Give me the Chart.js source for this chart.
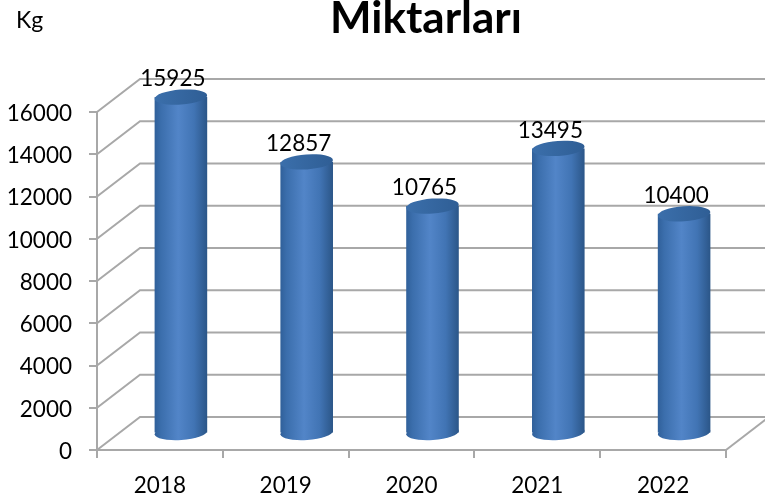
<!DOCTYPE html>
<html>
<head>
<meta charset="utf-8">
<style>html,body{margin:0;padding:0;background:#fff;overflow:hidden}#w{width:765px;height:501px;position:relative}</style>
<script src="https://cdn.jsdelivr.net/npm/chart.js@4"></script>
</head>
<body>
<div id="w"><canvas id="c" width="765" height="501"></canvas></div>
<script>
const years = ['2018','2019','2020','2021','2022'];
const amounts = [15925,12857,10765,13495,10400];
const yMax = 16000, yStep = 2000;
const titleText = 'Miktarları', unitText = 'Kg';
const depthX = 43, depthY = -33;
const barShiftX = 21, barShiftY = -16.5;
const capRy = 7.5, capTilt = -0.07;
const gridColor = '#a8a8a8';
const fontName = 'Lato, Carlito, "Open Sans", sans-serif';

function bodyGradient(ctx, x, w){
  const g = ctx.createLinearGradient(x - w/2, 0, x + w/2, 0);
  g.addColorStop(0, '#30609a');
  g.addColorStop(0.12, '#3b6eac');
  g.addColorStop(0.45, '#5285c8');
  g.addColorStop(0.75, '#4174b4');
  g.addColorStop(1, '#2b5688');
  return g;
}
function ellipse(ctx, x, y, rx, fill){
  ctx.beginPath();
  ctx.ellipse(x, y, rx, capRy, capTilt, 0, Math.PI*2);
  ctx.fillStyle = fill;
  ctx.fill();
}
const scene = {
  id: 'scene',
  beforeDatasetsDraw(chart){
    const {ctx, scales:{x, y}} = chart;
    const left = x.left, right = x.right;
    ctx.save();
    ctx.strokeStyle = gridColor;
    ctx.lineWidth = 2;
    y.ticks.forEach(t => {
      const p = y.getPixelForValue(t.value);
      ctx.beginPath();
      ctx.moveTo(left, p);
      ctx.lineTo(left + depthX, p + depthY);
      ctx.lineTo(765, p + depthY);
      ctx.stroke();
    });
    const p0 = y.getPixelForValue(0);
    ctx.beginPath();
    ctx.moveTo(right, p0);
    ctx.lineTo(right + depthX, p0 + depthY);
    ctx.stroke();
    ctx.restore();

    ctx.save();
    ctx.translate(barShiftX, barShiftY);
    chart.getDatasetMeta(0).data.forEach(b => {
      ellipse(ctx, b.x, b.base, b.width/2, bodyGradient(ctx, b.x, b.width));
    });
  },
  afterDatasetsDraw(chart){
    const {ctx} = chart;
    const bars = chart.getDatasetMeta(0).data;
    bars.forEach(b => {
      const g = ctx.createLinearGradient(b.x - b.width/2, 0, b.x + b.width/2, 0);
      g.addColorStop(0, '#3b6fab');
      g.addColorStop(1, '#2f5e95');
      ellipse(ctx, b.x, b.y, b.width/2, g);
    });
    ctx.restore();

    ctx.save();
    ctx.fillStyle = '#000';
    ctx.textAlign = 'center';
    ctx.textBaseline = 'middle';
    ctx.font = '22.5px ' + fontName;
    bars.forEach((b, i) => {
      ctx.fillText(String(amounts[i]), b.x + barShiftX - 8, b.y + barShiftY - 18);
    });
    ctx.textBaseline = 'alphabetic';
    ctx.font = 'bold 44px ' + fontName;
    ctx.fillText(titleText, 426, 33);
    ctx.font = '23px ' + fontName;
    ctx.textAlign = 'left';
    ctx.fillText(unitText, 16, 28);
    ctx.restore();
  }
};

new Chart(document.getElementById('c'), {
  type: 'bar',
  data: {
    labels: years,
    datasets: [{
      data: amounts,
      borderWidth: 0,
      clip: false,
      categoryPercentage: 1,
      barPercentage: 0.418,
      backgroundColor: c => {
        const sx = c.chart.scales.x;
        const w = 52.5;
        const px = (sx && c.dataIndex !== undefined) ? sx.getPixelForValue(c.dataIndex) : NaN;
        if (!Number.isFinite(px)) return '#4174b4';
        return bodyGradient(c.chart.ctx, px, w);
      }
    }]
  },
  plugins: [scene],
  options: {
    responsive: false,
    animation: false,
    layout: {padding: {left: 0, right: 39, top: 112, bottom: 0}},
    plugins: {legend: {display: false}, tooltip: {enabled: false}, title: {display: false}},
    scales: {
      x: {
        afterFit: s => { s.height = 51; },
        grid: {drawOnChartArea: false, drawTicks: true, tickLength: 8, color: gridColor, lineWidth: 2},
        border: {color: gridColor, width: 2},
        ticks: {color: '#000', font: {size: 22.5, family: fontName}, padding: 14, maxRotation: 0}
      },
      y: {
        min: 0, max: yMax,
        afterFit: s => { s.width = 97; },
        grid: {drawOnChartArea: false, drawTicks: true, tickLength: 8, color: gridColor, lineWidth: 2},
        border: {color: gridColor, width: 2},
        ticks: {stepSize: yStep, color: '#000', font: {size: 22.5, family: fontName}, padding: 17, labelOffset: 1.5, callback: v => String(v)}
      }
    }
  }
});
</script>
</body>
</html>
